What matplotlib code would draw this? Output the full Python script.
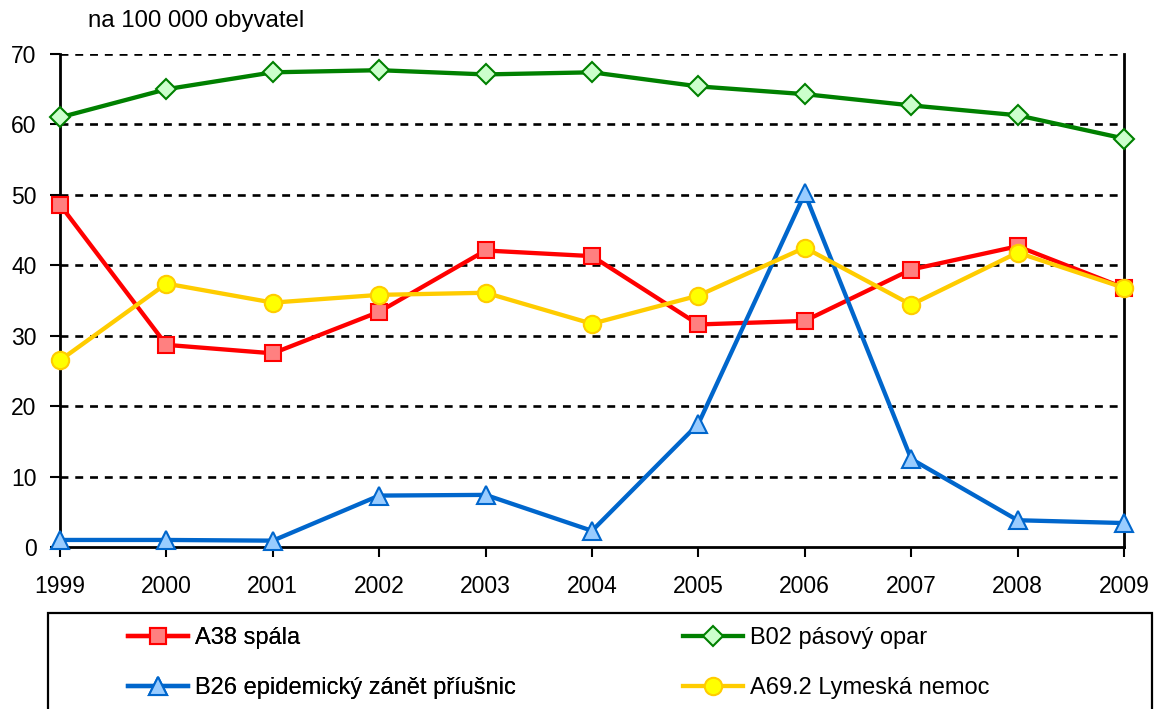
import numpy as np
import matplotlib.pyplot as plt
from matplotlib.patches import Rectangle

plt.rcParams['font.family'] = ['Liberation Sans', 'DejaVu Sans']

years = [1999, 2000, 2001, 2002, 2003, 2004, 2005, 2006, 2007, 2008, 2009]
spala = [48.6, 28.7, 27.5, 33.4, 42.1, 41.3, 31.6, 32.1, 39.4, 42.7, 36.8]
opar = [61.0, 65.0, 67.4, 67.7, 67.1, 67.4, 65.4, 64.3, 62.7, 61.3, 58.0]
priusnice = [1.0, 1.0, 0.9, 7.3, 7.4, 2.3, 17.5, 50.2, 12.5, 3.8, 3.4]
lyme = [26.5, 37.4, 34.7, 35.8, 36.1, 31.7, 35.7, 42.5, 34.4, 41.8, 36.8]

fig = plt.figure(figsize=(11.58, 7.09), dpi=100)
ax = fig.add_axes([60 / 1158, 1 - 547 / 709, (1124 - 60) / 1158, (547 - 54) / 709])

# dotted grid as in the original (also at 70, no top spine)
for v in range(10, 80, 10):
    ax.axhline(v, color='black', lw=1.9, ls=(0, (3, 2.6)), zorder=1)

lw = 3.1
h_opar, = ax.plot(years, opar, color='#008000', lw=lw, marker='D', ms=10,
                  mfc='#CCFFCC', mec='#008000', mew=1.5, label='B02 pásový opar',
                  zorder=3, clip_on=False)
h_spala, = ax.plot(years, spala, color='#FF0000', lw=lw, marker='s', ms=11.5,
                   mfc='#FF8080', mec='#FF0000', mew=1.5, label='A38 spála',
                   zorder=4, clip_on=False)
h_prius, = ax.plot(years, priusnice, color='#0066CC', lw=lw, marker='^', ms=13,
                   mfc='#99CCFF', mec='#0066CC', mew=1.5,
                   label='B26 epidemický zánět příušnic', zorder=5, clip_on=False)
h_lyme, = ax.plot(years, lyme, color='#FFCC00', lw=lw, marker='o', ms=12.5,
                  mfc='#FFFF00', mec='#FFCC00', mew=1.5,
                  label='A69.2 Lymeská nemoc', zorder=6, clip_on=False)

ax.set_xlim(1999, 2009)
ax.set_ylim(0, 70)
ax.set_xticks(years)
ax.set_yticks(range(0, 80, 10))
ax.tick_params(direction='out', length=7, width=1.5, labelsize=16.5, color='black')
ax.tick_params(axis='x', pad=13.5)
ax.tick_params(axis='y', pad=10)
ax.spines['top'].set_visible(False)
for s in ['left', 'right', 'bottom']:
    ax.spines[s].set_linewidth(2)

fig.text(88 / 1158, 1 - 21 / 709, 'na 100 000 obyvatel', fontsize=17.3,
         va='center', ha='left')

# legend box, its bottom edge lies outside the picture
fig.add_artist(Rectangle((48 / 1158, -0.05), (1152 - 48) / 1158, 0.05 + (709 - 613) / 709,
                         transform=fig.transFigure, fill=False, ec='black', lw=1.6))

kw = dict(loc='upper left', frameon=False, fontsize=17, handlelength=2.55,
          handletextpad=0.3, labelspacing=1.2, borderpad=0, borderaxespad=0)
leg1 = fig.legend([h_spala, h_prius], [h_spala.get_label(), h_prius.get_label()],
                  bbox_to_anchor=(128 / 1158, 1 - 627 / 709), **kw)
fig.add_artist(leg1)
fig.legend([h_opar, h_lyme], [h_opar.get_label(), h_lyme.get_label()],
           bbox_to_anchor=(683 / 1158, 1 - 627 / 709), **kw)

fig.savefig('out.png', dpi=100, facecolor='white')
